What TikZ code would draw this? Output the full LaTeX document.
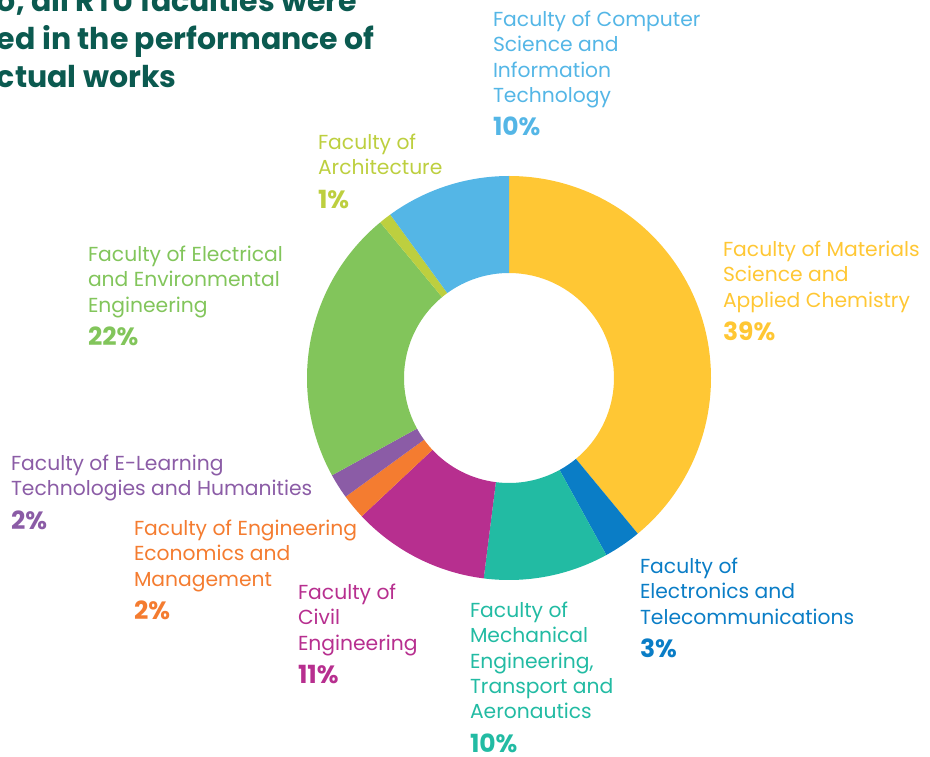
\documentclass[tikz,border=0pt]{standalone}
\usepackage{fontspec}
\setmainfont{Poppins}
\usepackage{tikz}
\usepackage{xcolor}
\usetikzlibrary{positioning}
\definecolor{matlcol}{HTML}{FFC734}
\definecolor{telecol}{HTML}{0A7DC6}
\definecolor{mechcol}{HTML}{22BBA3}
\definecolor{civilcol}{HTML}{B72F8F}
\definecolor{econcol}{HTML}{F47C30}
\definecolor{elrncol}{HTML}{8B5CA6}
\definecolor{eleccol}{HTML}{82C55B}
\definecolor{archcol}{HTML}{BDCF3F}
\definecolor{compcol}{HTML}{54B6E6}
\definecolor{titlecol}{HTML}{0B5A50}
\tikzstyle{faculty} = [anchor=north west, inner sep=0pt, outer sep=0pt,
    align=left, font=\fontsize{20.3}{25.3}\selectfont]
\tikzstyle{headline} = [anchor=north west, inner sep=0pt, outer sep=0pt,
    align=left, text=titlecol, font=\fontsize{30}{38}\selectfont\bfseries]
\newcommand{\share}[1]{\\[8pt]{\fontsize{25}{25}\selectfont\bfseries #1\%}}

\begin{document}
\begin{tikzpicture}[x=1pt, y=1pt]
	\useasboundingbox (0,0) rectangle (930,756);
	\clip (0,0) rectangle (930,756);
	\node [headline] (title) at (-3,769)
		{o, all RTU faculties were\\ed in the performance of\\ctual works};
	% donut
	\begin{scope}[shift={(509,378)}]
		\fill [matlcol] (90:202) arc (90:-50.4:202) -- (-50.4:105)
			arc (-50.4:90:105) -- cycle;
		\fill [telecol] (-50.4:202) arc (-50.4:-61.2:202) -- (-61.2:105)
			arc (-61.2:-50.4:105) -- cycle;
		\fill [mechcol] (-61.2:202) arc (-61.2:-97.2:202) -- (-97.2:105)
			arc (-97.2:-61.2:105) -- cycle;
		\fill [civilcol] (-97.2:202) arc (-97.2:-136.8:202) -- (-136.8:105)
			arc (-136.8:-97.2:105) -- cycle;
		\fill [econcol] (-136.8:202) arc (-136.8:-144:202) -- (-144:105)
			arc (-144:-136.8:105) -- cycle;
		\fill [elrncol] (-144:202) arc (-144:-151.2:202) -- (-151.2:105)
			arc (-151.2:-144:105) -- cycle;
		\fill [eleccol] (-151.2:202) arc (-151.2:-230.4:202) -- (-230.4:105)
			arc (-230.4:-151.2:105) -- cycle;
		\fill [archcol] (-230.4:202) arc (-230.4:-234:202) -- (-234:105)
			arc (-234:-230.4:105) -- cycle;
		\fill [compcol] (-234:202) arc (-234:-270:202) -- (-270:105)
			arc (-270:-234:105) -- cycle;
	\end{scope}
	% labels
	\node [faculty, text=compcol] (comp) at (493,745)
		{Faculty of Computer\\Science and\\Information\\Technology\share{10}};
	\node [faculty, text=archcol] (arch) at (318,622)
		{Faculty of\\Architecture\share{1}};
	\node [faculty, text=matlcol] (matl) at (723,515)
		{Faculty of Materials\\Science and\\Applied Chemistry\share{39}};
	\node [faculty, text=eleccol] (elec) at (88,510)
		{Faculty of Electrical\\and Environmental\\Engineering\share{22}};
	\node [faculty, text=elrncol] (elrn) at (11,301)
		{Faculty of E-Learning\\Technologies and Humanities\share{2}};
	\node [faculty, text=econcol] (econ) at (134,236)
		{Faculty of Engineering\\Economics and\\Management\share{2}};
	\node [faculty, text=civilcol] (civil) at (298,172)
		{Faculty of\\Civil\\Engineering\share{11}};
	\node [faculty, text=mechcol] (mech) at (470,154)
		{Faculty of\\Mechanical\\Engineering,\\Transport and\\Aeronautics\share{10}};
	\node [faculty, text=telecol] (tele) at (640,198)
		{Faculty of\\Electronics and\\Telecommunications\share{3}};
\end{tikzpicture}
\end{document}
